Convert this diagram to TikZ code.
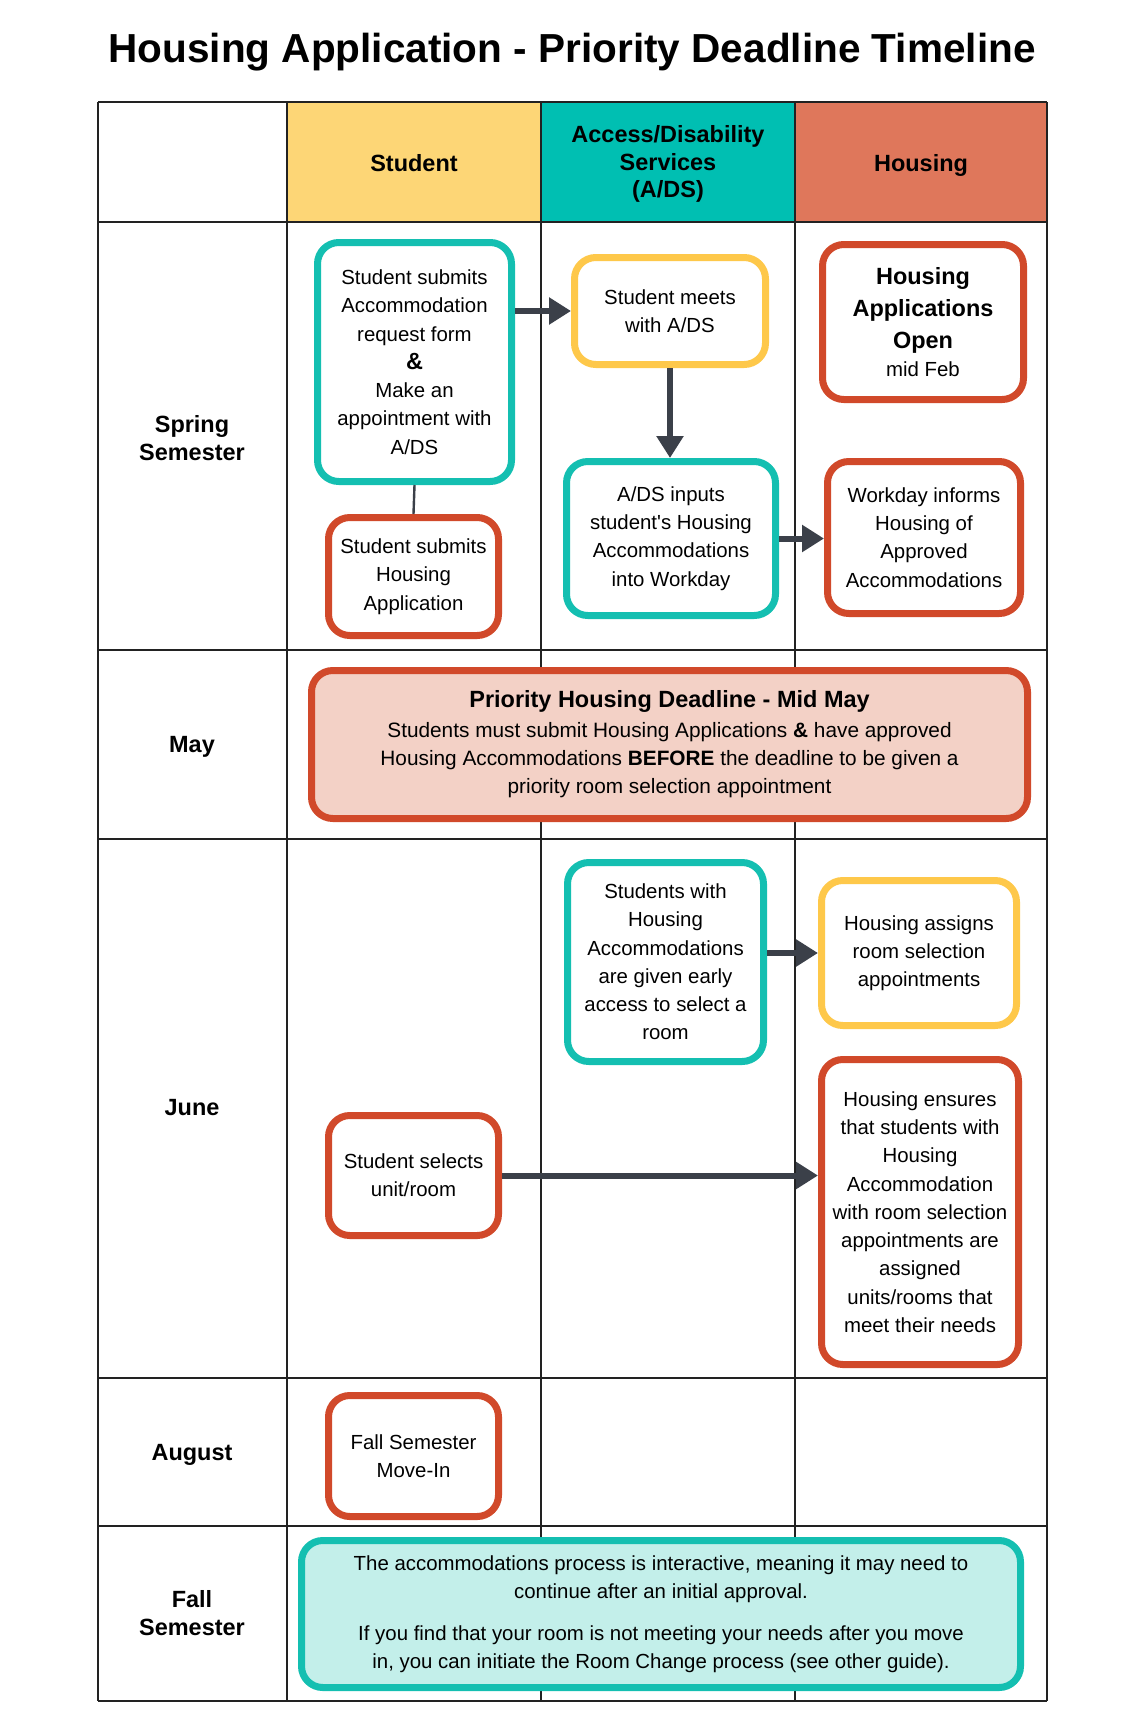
\documentclass[tikz,border=0pt]{standalone}
\usepackage{fontspec}
\setmainfont{Liberation Sans}[Ligatures=TeXOff]
\usetikzlibrary{arrows.meta}
\definecolor{gridc}{HTML}{222222}
\definecolor{hyellow}{HTML}{FDD676}
\definecolor{hteal}{HTML}{00BFB2}
\definecolor{hred}{HTML}{DF775B}
\definecolor{bteal}{HTML}{14BFB1}
\definecolor{bred}{HTML}{D1492A}
\definecolor{byellow}{HTML}{FEC84A}
\definecolor{arrc}{HTML}{3B4049}
\definecolor{mayfill}{HTML}{F3D1C6}
\definecolor{fallfill}{HTML}{C3EFEA}
\newcommand\bodyfont{\fontsize{15.3}{21.2}\selectfont}
\newcommand\headfont{\fontsize{17.6}{20.7}\selectfont\bfseries}
\newcommand\bigbold{\fontsize{17.6}{24}\selectfont\bfseries}
\begin{document}
\begin{tikzpicture}[x=0.75pt,y=-0.75pt,
  box/.style={draw, rectangle, rounded corners=16pt, line width=5.25pt, fill=white,
    align=center, inner sep=0pt, font=\bodyfont, text=black},
  tealbox/.style={box, draw=bteal},
  redbox/.style={box, draw=bred},
  yellowbox/.style={box, draw=byellow},
  gridline/.style={draw=gridc, line width=1.1pt},
  lbl/.style={align=center, font=\headfont, inner sep=0pt},
  arr/.style={draw=arrc, line width=4.5pt, -{Triangle[length=16.5pt, width=19.5pt]}},
  link/.style={draw=arrc, line width=1.8pt}
]
\useasboundingbox (0,0) rectangle (1130,1724);
% title
\node[font=\fontsize{30.4}{36}\selectfont\bfseries, inner sep=0pt] (title) at (572,52) {Housing Application - Priority Deadline Timeline};
% header fills
\fill[hyellow] (287,102) rectangle (541,222);
\fill[hteal] (541,102) rectangle (795,222);
\fill[hred] (795,102) rectangle (1047,222);
% grid
\foreach \xx in {98,287,541,795,1047} \draw[gridline] (\xx,102) -- (\xx,1701);
\foreach \yy in {102,222,650,839,1378,1526,1701} \draw[gridline] (98,\yy) -- (1047,\yy);
% header labels
\node[lbl] (hstud) at (414,163) {Student};
\node[lbl] (hads) at (668,164) {Access/Disability\\Services\\(A/DS)};
\node[lbl] (hhous) at (921,165) {Housing};
% row labels
\node[lbl] (rspring) at (192,438) {Spring\\Semester};
\node[lbl] (rmay) at (192,747) {May};
\node[lbl] (rjune) at (192,1108) {June};
\node[lbl] (raug) at (192,1455) {August};
\node[lbl] (rfall) at (192,1613) {Fall\\Semester};
% spring
\node[tealbox, minimum width=194*0.75pt, minimum height=239*0.75pt] (A) at (414.5,362)
  {Student submits\\Accommodation\\request form\\{\fontsize{17.6}{20}\selectfont\bfseries\&}\\Make an\\appointment with\\A/DS};
\node[redbox, minimum width=170*0.75pt, minimum height=118*0.75pt] (B) at (413.5,576.5)
  {Student submits\\Housing\\Application};
\node[yellowbox, minimum width=191*0.75pt, minimum height=107*0.75pt] (C) at (670,311)
  {Student meets\\with A/DS};
\node[tealbox, minimum width=209*0.75pt, minimum height=154*0.75pt] (D) at (671,538.5)
  {A/DS inputs\\student's Housing\\Accommodations\\into Workday};
\node[redbox, minimum width=201*0.75pt, minimum height=155*0.75pt] (E) at (923,322)
  {{\bigbold Housing}\\[3pt]{\bigbold Applications}\\[3pt]{\bigbold Open}\\mid Feb};
\node[redbox, minimum width=193*0.75pt, minimum height=152*0.75pt] (F) at (924,537.5)
  {Workday informs\\Housing of\\Approved\\Accommodations};
% may
\node[redbox, fill=mayfill, minimum width=716*0.75pt, minimum height=148*0.75pt] (M) at (669.5,744.5)
  {{\bigbold Priority Housing Deadline - Mid May}\\[1pt]{\fontsize{15.6}{21.5}\selectfont Students must submit Housing Applications \textbf{\&} have approved}\\{\fontsize{15.6}{21.5}\selectfont Housing Accommodations \textbf{BEFORE} the deadline to be given a}\\{\fontsize{15.6}{21.5}\selectfont priority room selection appointment}};
% june
\node[tealbox, minimum width=196*0.75pt, minimum height=199*0.75pt] (G) at (665.5,962)
  {Students with\\Housing\\Accommodations\\are given early\\access to select a\\room};
\node[yellowbox, minimum width=195*0.75pt, minimum height=145*0.75pt] (H) at (919,953)
  {Housing assigns\\room selection\\appointments};
\node[redbox, minimum width=197*0.75pt, minimum height=305*0.75pt] (I) at (920,1212)
  {Housing ensures\\that students with\\Housing\\Accommodation\\with room selection\\appointments are\\assigned\\units/rooms that\\meet their needs};
\node[redbox, minimum width=170*0.75pt, minimum height=120*0.75pt] (J) at (413.5,1175.5)
  {Student selects\\unit/room};
% august
\node[redbox, minimum width=170*0.75pt, minimum height=121*0.75pt] (K) at (413.5,1456)
  {Fall Semester\\Move-In};
% fall
\node[tealbox, fill=fallfill, minimum width=719*0.75pt, minimum height=147*0.75pt] (L) at (661,1614)
  {The accommodations process is interactive, meaning it may need to\\continue after an initial approval.\\[10pt]If you find that your room is not meeting your needs after you move\\in, you can initiate the Room Change process (see other guide).};
% connectors
\draw[link] (A.south) -- (B.north);
\draw[arr] (A.east |- C.west) -- (C.west);
\draw[arr] (C.south) -- (C.south |- D.north);
\draw[arr] (D.east) -- (D.east -| F.west);
\draw[arr] (G.east |- H.west) -- (H.west);
\draw[arr] (J.east) -- (J.east -| I.west);
\end{tikzpicture}
\end{document}
